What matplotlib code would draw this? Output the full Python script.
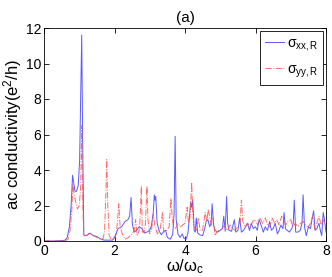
import numpy as np
import matplotlib
matplotlib.use('Agg')
import matplotlib.pyplot as plt

# sigma_xx,R (solid blue)
w_xx = [0.0, 0.3, 0.5, 0.6, 0.66, 0.72, 0.77, 0.81, 0.85, 0.88, 0.92, 0.97, 1.01, 1.04, 1.07,
        1.10, 1.13, 1.18, 1.25, 1.3, 1.4, 1.5, 1.6, 1.7, 1.8, 1.95, 2.02, 2.1, 2.2, 2.3, 2.38,
        2.43, 2.47, 2.51, 2.56, 2.62, 2.7, 2.78, 2.85, 2.92, 3.0, 3.05, 3.1, 3.13, 3.15, 3.17,
        3.21, 3.27, 3.33, 3.4, 3.45, 3.5, 3.58, 3.65, 3.69, 3.72, 3.75, 3.8, 3.86, 3.92, 3.97,
        4.03, 4.08, 4.12, 4.16, 4.19, 4.22, 4.26, 4.29, 4.32, 4.36, 4.42, 4.5, 4.56, 4.6, 4.65,
        4.7, 4.74, 4.77, 4.81, 4.86, 4.93, 5.0, 5.06, 5.1, 5.14, 5.18, 5.21, 5.25, 5.32, 5.4,
        5.44, 5.5, 5.55, 5.6, 5.66, 5.72, 5.77, 5.83, 5.88, 5.94, 6.0, 6.05, 6.1, 6.16, 6.22,
        6.28, 6.34, 6.4, 6.45, 6.5, 6.56, 6.62, 6.67, 6.72, 6.78, 6.81, 6.85, 6.9, 6.96, 7.03,
        7.07, 7.1, 7.14, 7.2, 7.27, 7.32, 7.35, 7.39, 7.44, 7.5, 7.56, 7.6, 7.65, 7.69, 7.74,
        7.8, 7.85, 7.88, 7.92, 7.95, 8.0]
s_xx = [0.0, 0.0, 0.02, 0.05, 0.2, 0.8, 2.0, 3.7, 3.2, 2.8, 2.8, 3.1, 4.5, 8.0, 11.6,
        5.0, 0.35, 0.3, 0.35, 0.45, 0.3, 0.25, 0.12, 0.05, 0.05, 0.05, 0.3, 0.7, 0.8, 1.1, 1.2,
        1.4, 2.45, 0.9, 0.5, 0.6, 0.8, 0.7, 0.45, 0.5, 0.6, 0.9, 1.6, 2.6, 2.3, 2.5,
        1.0, 0.55, 0.35, 0.55, 0.6, 0.2, 0.1, 0.35, 1.5, 5.9, 1.2, 0.4, 0.2, 0.4, 0.15,
        0.1, 0.4, 1.2, 2.2, 1.9, 2.3, 0.6, 0.5, 1.3, 0.45, 0.35, 0.3, 0.7, 1.1, 1.2,
        0.8, 1.0, 2.1, 0.9, 0.6, 0.5, 0.6, 0.7, 1.4, 0.55, 2.5, 1.0, 0.6, 0.55, 1.2,
        0.5, 0.6, 1.3, 0.5, 0.6, 0.8, 1.0, 0.6, 1.0, 0.7, 0.8, 0.6, 1.2, 0.9, 0.5,
        0.8, 0.6, 1.1, 0.6, 0.7, 1.0, 0.4, 0.6, 0.9, 0.7, 1.6, 0.7, 0.6, 0.5, 0.7,
        1.0, 2.3, 0.5, 0.5, 0.6, 1.0, 2.6, 0.8, 0.3, 0.8, 0.7, 1.2, 1.7, 0.6, 0.7,
        1.0, 0.5, 0.3, 1.6, 1.3, 0.5]

# sigma_yy,R (dash-dot red)
w_yy = [0.0, 0.3, 0.5, 0.6, 0.68, 0.74, 0.79, 0.82, 0.86, 0.9, 0.95, 1.0, 1.04, 1.07, 1.10,
        1.13, 1.2, 1.3, 1.4, 1.5, 1.6, 1.68, 1.72, 1.76, 1.78, 1.81, 1.85, 1.9, 2.0, 2.05, 2.09,
        2.12, 2.16, 2.22, 2.3, 2.4, 2.5, 2.56, 2.6, 2.64, 2.7, 2.73, 2.76, 2.79, 2.84, 2.88,
        2.92, 2.95, 3.0, 3.05, 3.1, 3.15, 3.22, 3.3, 3.36, 3.4, 3.48, 3.55, 3.6, 3.63, 3.67,
        3.73, 3.8, 3.87, 3.93, 4.0, 4.06, 4.1, 4.14, 4.19, 4.22, 4.26, 4.32, 4.38, 4.43, 4.5,
        4.57, 4.62, 4.66, 4.7, 4.75, 4.8, 4.85, 4.9, 4.97, 5.05, 5.12, 5.2, 5.28, 5.35, 5.42,
        5.5, 5.56, 5.6, 5.64, 5.7, 5.78, 5.85, 5.92, 6.0, 6.06, 6.12, 6.2, 6.28, 6.34, 6.4,
        6.47, 6.54, 6.6, 6.67, 6.74, 6.8, 6.86, 6.92, 7.0, 7.06, 7.13, 7.2, 7.28, 7.35, 7.42,
        7.5, 7.56, 7.62, 7.68, 7.74, 7.8, 7.86, 7.92, 8.0]
s_yy = [0.0, 0.0, 0.0, 0.02, 0.1, 0.6, 1.8, 3.2, 2.6, 2.2, 1.8, 2.0, 3.0, 6.5, 2.0,
        0.3, 0.3, 0.45, 0.3, 0.2, 0.1, 0.15, 0.6, 3.0, 4.6, 2.0, 0.3, 0.1, 0.1, 0.4, 1.2,
        2.1, 0.8, 0.4, 0.1, 0.2, 0.4, 0.6, 1.2, 0.3, 0.6, 1.4, 3.1, 0.5, 0.5, 1.0,
        3.1, 1.2, 0.4, 0.6, 1.5, 0.8, 0.4, 0.7, 1.6, 0.5, 0.6, 0.8, 2.4, 1.5, 0.8,
        0.7, 1.0, 0.8, 0.9, 1.0, 1.9, 1.0, 1.3, 3.3, 1.5, 0.8, 0.6, 1.3, 0.6, 0.6,
        1.6, 1.1, 1.8, 1.3, 0.9, 1.3, 0.3, 0.5, 0.6, 0.7, 0.9, 0.6, 0.9, 0.7, 0.6,
        0.8, 1.0, 2.3, 1.1, 0.8, 1.0, 0.8, 1.1, 1.2, 0.9, 1.3, 1.0, 1.3, 0.9, 0.8,
        1.3, 1.0, 1.2, 0.9, 1.4, 1.2, 0.9, 1.1, 1.2, 0.8, 1.0, 0.8, 1.0, 1.1, 0.9,
        0.8, 1.0, 1.4, 0.7, 1.0, 1.4, 0.9, 1.2, 0.8]

plt.rcParams['font.family'] = ['Liberation Sans', 'DejaVu Sans']
plt.rcParams['mathtext.fontset'] = 'custom'
plt.rcParams['mathtext.rm'] = 'Liberation Sans'
plt.rcParams['mathtext.it'] = 'Liberation Sans'

fig = plt.figure(figsize=(3.32, 2.77), dpi=100)
ax = fig.add_axes([44 / 332, 36 / 277, 282 / 332, 213 / 277])

ax.plot(w_xx, s_xx, color='#4848ff', lw=0.7, alpha=0.9, label=r'$\sigma_{\rm xx,R}$')
ax.plot(w_yy, s_yy, color='#ff5050', lw=0.7, ls='-.', alpha=0.85, label=r'$\sigma_{\rm yy,R}$')

ax.set_xlim(0, 8)
ax.set_ylim(0, 12)
ax.set_xticks([0, 2, 4, 6, 8])
ax.set_yticks([0, 2, 4, 6, 8, 10, 12])
ax.tick_params(direction='in', length=3.5, width=0.6, labelsize=10, top=True, right=True,
               labeltop=False, labelright=False, pad=2)
for s in ax.spines.values():
    s.set_linewidth(0.6)

ax.set_title('(a)', fontsize=11, pad=4)
ax.set_xlabel(r'$\omega/\omega_{\rm c}$', fontsize=12, labelpad=0)
ax.set_ylabel(r'ac conductivity(e$^2$/h)', fontsize=12, labelpad=1)

leg = ax.legend(loc='upper right', fontsize=10, handlelength=1.4, handletextpad=0.2,
                borderaxespad=0.2, borderpad=0.35, fancybox=False, edgecolor='black',
                framealpha=1, labelspacing=0.7)
leg.get_frame().set_linewidth(0.6)

fig.savefig('out.png', dpi=100)
